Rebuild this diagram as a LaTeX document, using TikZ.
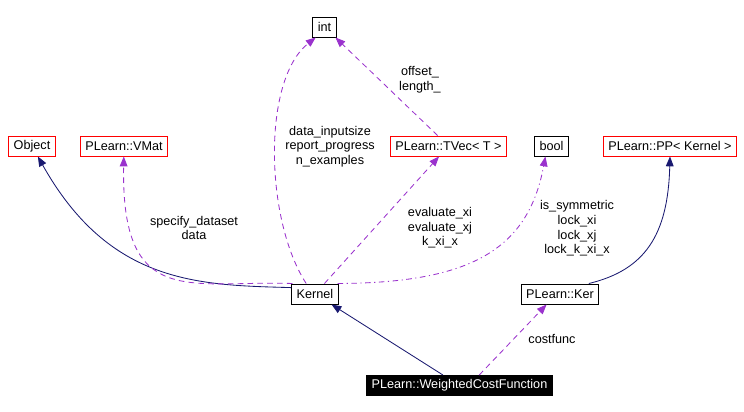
\documentclass[tikz,border=0pt]{standalone}
\usepackage{fontspec}
\setmainfont{Liberation Sans}
\usepackage{tikz}
\usetikzlibrary{arrows.meta}
\definecolor{navy2}{HTML}{191970}
\definecolor{purple2}{HTML}{9A32CD}

\begin{document}
\begin{tikzpicture}[
          x=0.025cm, y=-0.025cm,
          every node/.style={font=\fontsize{9}{10.4}\selectfont},
          cls/.style={draw,line width=0.7pt,minimum height=0.5cm,
                      inner xsep=3.6pt,inner ysep=0pt},
          ext/.style={cls,draw=red},
          focus/.style={cls,fill=black,text=white},
          inherit/.style={-{Triangle[length=7pt,width=5.5pt]},navy2,line width=0.6pt},
          usage/.style={-{Triangle[length=7pt,width=5.5pt]},purple2,line width=0.6pt,
                        dash pattern=on 4pt off 3pt},
          usagedot/.style={usage,dash pattern=on 4pt off 2.5pt on 0.8pt off 2.5pt},
          tag/.style={align=center,inner sep=0pt},
      ]
        \useasboundingbox (0,0) rectangle (744,412);

        \node[cls] (int) at (324.5,27) {int};
        \node[ext] (obj) at (32,146) {Object};
        \node[ext] (vmat) at (124,146) {PLearn::VMat};
        \node[ext] (tvec) at (448.5,146) {PLearn::TVec< T >};
        \node[cls] (bool) at (551.5,146) {bool};
        \node[ext] (pp) at (670,146) {PLearn::PP< Kernel >};
        \node[cls] (kernel) at (315,294) {Kernel};
        \node[cls] (ker) at (560,294) {PLearn::Ker};
        \node[focus] (wcf) at (459.5,385.5) {PLearn::WeightedCostFunction};

        \draw[inherit] (kernel.165) .. controls (200,285) and (110,285) .. (obj);
        \draw[usage] (kernel.155) .. controls (190,280) and (121,310) .. (vmat);
        \draw[usage] (kernel.130) .. controls (265,220) and (262,80) .. (int.230);
        \draw[usage] (tvec) -- (int);
        \draw[usage] (kernel) -- (tvec);
        \draw[usagedot] (kernel.25) .. controls (470,283) and (528,250) .. (bool.240);
        \draw[inherit] (ker.20) .. controls (645,270) and (668,235) .. (pp.south);
        \draw[inherit] (wcf) -- (kernel);
        \draw[usage] (wcf.28) -- (ker.218);

        \node[tag] (lvmat) at (194,228) {specify\_dataset\\data};
        \node[tag] (lint) at (330,146.5) {data\_inputsize\\report\_progress\\n\_examples};
        \node[tag] (loff) at (420,80) {offset\_\\length\_};
        \node[tag] (ltvec) at (440,228) {evaluate\_xi\\evaluate\_xj\\k\_xi\_x};
        \node[tag] (lbool) at (577,228.5) {is\_symmetric\\lock\_xi\\lock\_xj\\lock\_k\_xi\_x};
        \node[tag] (lker) at (552,339) {costfunc};
      \end{tikzpicture}
\end{document}
